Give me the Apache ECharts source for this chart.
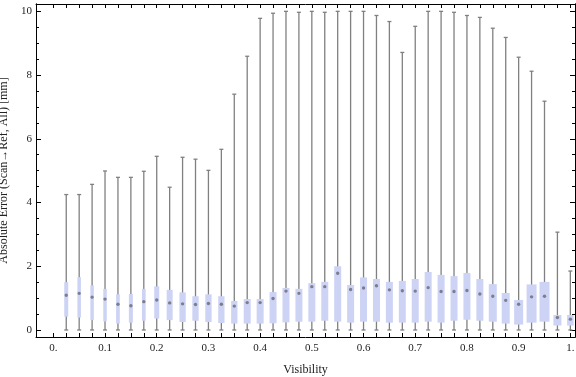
<!DOCTYPE html>
<html>
<head>
<meta charset="utf-8">
<script src="https://cdn.jsdelivr.net/npm/echarts@6/dist/echarts.min.js"></script>
<style>
  html, body { margin: 0; padding: 0; background: #fff; }
  #chart { width: 576px; height: 377px; }
</style>
</head>
<body>
<div id="chart"></div>
<script>
// visibility bins (box centres)
const visibility = [0.025, 0.05, 0.075, 0.1, 0.125, 0.15, 0.175, 0.2, 0.225, 0.25,
  0.275, 0.3, 0.325, 0.35, 0.375, 0.4, 0.425, 0.45, 0.475, 0.5,
  0.525, 0.55, 0.575, 0.6, 0.625, 0.65, 0.675, 0.7, 0.725, 0.75,
  0.775, 0.8, 0.825, 0.85, 0.875, 0.9, 0.925, 0.95, 0.975, 1.0];

const whiskerMin = [0, 0, 0, 0, 0, 0, 0, 0, 0, 0,
  0, 0, 0, 0, 0, 0, 0, 0, 0, 0,
  0, 0, 0, 0, 0, 0, 0, 0, 0, 0,
  0, 0, 0, 0, 0, 0, 0, 0, 0, 0];
const q1 = [0.42, 0.39, 0.31, 0.27, 0.20, 0.23, 0.29, 0.36, 0.31, 0.25,
  0.29, 0.25, 0.22, 0.20, 0.20, 0.20, 0.21, 0.24, 0.26, 0.26,
  0.29, 0.26, 0.23, 0.26, 0.26, 0.23, 0.23, 0.23, 0.26, 0.23,
  0.29, 0.32, 0.29, 0.26, 0.20, 0.17, 0.23, 0.26, 0.14, 0.14];
const median = [1.09, 1.15, 1.03, 0.97, 0.81, 0.76, 0.89, 0.94, 0.85, 0.82,
  0.80, 0.83, 0.81, 0.75, 0.86, 0.86, 0.99, 1.22, 1.15, 1.36,
  1.36, 1.78, 1.27, 1.32, 1.39, 1.26, 1.23, 1.22, 1.33, 1.21,
  1.21, 1.24, 1.13, 1.06, 0.93, 0.81, 1.04, 1.06, 0.39, 0.34];
const q3 = [1.50, 1.66, 1.40, 1.29, 1.12, 1.13, 1.29, 1.37, 1.26, 1.18,
  1.06, 1.12, 1.06, 0.91, 0.97, 0.97, 1.19, 1.32, 1.29, 1.47,
  1.51, 2.00, 1.41, 1.65, 1.60, 1.51, 1.54, 1.60, 1.82, 1.73,
  1.69, 1.79, 1.60, 1.44, 1.16, 0.94, 1.43, 1.51, 0.47, 0.47];
const whiskerMax = [4.25, 4.25, 4.57, 4.99, 4.79, 4.79, 4.98, 5.45, 4.48, 5.42,
  5.36, 5.01, 5.67, 7.40, 8.59, 9.78, 9.94, 10.0, 9.97, 10.0,
  9.97, 10.0, 10.0, 10.0, 9.87, 9.68, 8.71, 9.53, 10.0, 10.0,
  9.97, 9.87, 9.81, 9.47, 9.18, 8.56, 8.12, 7.18, 3.07, 1.85];

// tick positions
const xTicks = [0, 0.025, 0.05, 0.075, 0.1, 0.125, 0.15, 0.175, 0.2, 0.225, 0.25,
  0.275, 0.3, 0.325, 0.35, 0.375, 0.4, 0.425, 0.45, 0.475, 0.5,
  0.525, 0.55, 0.575, 0.6, 0.625, 0.65, 0.675, 0.7, 0.725, 0.75,
  0.775, 0.8, 0.825, 0.85, 0.875, 0.9, 0.925, 0.95, 0.975, 1.0];
const xLabels = [0, 0.1, 0.2, 0.3, 0.4, 0.5, 0.6, 0.7, 0.8, 0.9, 1.0];
const yMajor = [0, 2, 4, 6, 8, 10];
const yMinor = [0.5, 1, 1.5, 2.5, 3, 3.5, 4.5, 5, 5.5, 6.5, 7, 7.5, 8.5, 9, 9.5];

// drawn box widths in px (boxes get wider to the right)
const boxPx = [4, 3.5, 3.5, 3.5, 3.7, 4, 3.7, 5, 6, 6.3,
  6.3, 6.3, 6.3, 6.3, 7, 7, 7, 7, 7, 7,
  7, 7, 7, 7, 7, 7, 7, 7, 7, 7,
  7, 7, 7, 8, 8, 9, 10, 10, 8, 6.5];

const FONT = 'Liberation Serif';
const whiskerColor = '#808080';
const boxColor = '#cdd3f5';

const chart = echarts.init(document.getElementById('chart'));

const rows = visibility.map((v, i) => [v, whiskerMin[i], q1[i], median[i], q3[i], whiskerMax[i], i]);

function renderBox(params, api) {
  const x = api.value(0);
  const i = api.value(6);
  const pMin = api.coord([x, api.value(1)]);
  const pQ1 = api.coord([x, api.value(2)]);
  const pMed = api.coord([x, api.value(3)]);
  const pQ3 = api.coord([x, api.value(4)]);
  const pMax = api.coord([x, api.value(5)]);
  const w = boxPx[i];
  const cx = pMin[0];
  const line = { stroke: whiskerColor, lineWidth: 1.3 };
  return {
    type: 'group',
    children: [
      { type: 'line', shape: { x1: cx, y1: pMin[1], x2: cx, y2: pMax[1] }, style: line },
      { type: 'line', shape: { x1: cx - 2, y1: pMin[1], x2: cx + 2, y2: pMin[1] }, style: line },
      { type: 'line', shape: { x1: cx - 2, y1: pMax[1], x2: cx + 2, y2: pMax[1] }, style: line },
      { type: 'rect', shape: { x: cx - w / 2, y: pQ3[1], width: w, height: pQ1[1] - pQ3[1] },
        style: { fill: boxColor } },
      { type: 'circle', shape: { cx: cx, cy: pMed[1], r: 1.7 },
        style: { fill: 'rgba(115,115,130,0.9)' } }
    ]
  };
}

const xBase = {
  type: 'value', min: -0.0335, max: 1.009,
  axisLine: { show: true, onZero: false, lineStyle: { color: '#000', width: 1 } },
  splitLine: { show: false },
  axisTick: { inside: true, length: 4, customValues: xTicks, lineStyle: { color: '#000' } }
};
const yBase = {
  type: 'value', min: -0.22, max: 10.23,
  axisLine: { show: true, onZero: false, lineStyle: { color: '#000', width: 1 } },
  splitLine: { show: false }
};

chart.setOption({
  animation: false,
  grid: { left: 36, right: 1, top: 4, bottom: 40, outerBoundsMode: 'none' },
  xAxis: [
    {
      ...xBase, position: 'bottom',
      name: 'Visibility', nameLocation: 'middle', nameGap: 27,
      nameTextStyle: { fontFamily: FONT, fontSize: 12, color: '#222' },
      axisLabel: {
        customValues: xLabels, fontFamily: FONT, fontSize: 11, color: '#222', margin: 6,
        formatter: (v) => (v === 0 ? '0.' : v === 1 ? '1.' : String(+v.toFixed(1)))
      }
    },
    { ...xBase, position: 'top', axisLabel: { show: false } }
  ],
  yAxis: [
    {
      ...yBase, position: 'left',
      name: 'Absolute Error (Scan\u2192Ref, All) [mm]', nameLocation: 'middle', nameGap: 17,
      nameTextStyle: { fontFamily: FONT, fontSize: 12, color: '#222' },
      axisTick: { inside: true, length: 5, customValues: yMajor, lineStyle: { color: '#000' } },
      axisLabel: { customValues: yMajor, fontFamily: FONT, fontSize: 11, color: '#222', margin: 4 }
    },
    {
      ...yBase, position: 'left',
      axisTick: { inside: true, length: 3, customValues: yMinor, lineStyle: { color: '#000' } },
      axisLabel: { show: false }
    },
    {
      ...yBase, position: 'right',
      axisTick: { inside: true, length: 5, customValues: yMajor, lineStyle: { color: '#000' } },
      axisLabel: { show: false }
    },
    {
      ...yBase, position: 'right',
      axisTick: { inside: true, length: 3, customValues: yMinor, lineStyle: { color: '#000' } },
      axisLabel: { show: false }
    }
  ],
  series: [
    {
      type: 'custom',
      xAxisIndex: 0, yAxisIndex: 0,
      renderItem: renderBox,
      encode: { x: 0, y: [1, 2, 3, 4, 5] },
      data: rows,
      clip: true
    }
  ]
});
</script>
</body>
</html>
